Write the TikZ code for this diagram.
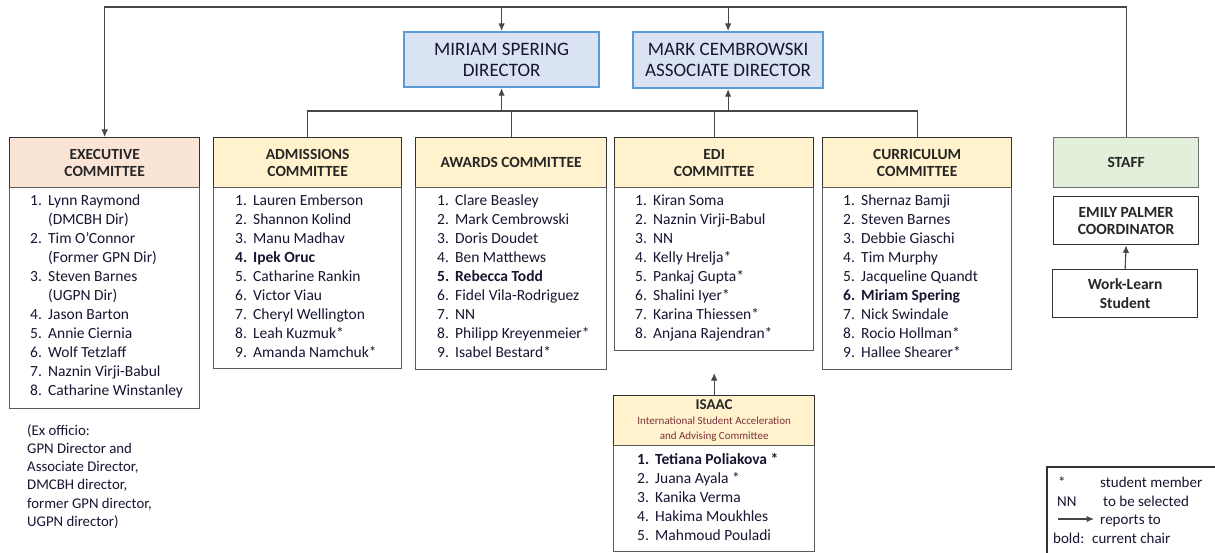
\documentclass[tikz,border=0pt]{standalone}
\usepackage{fontspec}
\setmainfont{Carlito}
\usetikzlibrary{arrows.meta}
\definecolor{boxline}{RGB}{50,50,50}
\definecolor{linegray}{RGB}{70,70,70}
\definecolor{listtxt}{RGB}{22,22,50}
\definecolor{execfill}{RGB}{250,228,214}
\definecolor{comfill}{RGB}{255,242,204}
\definecolor{stafffill}{RGB}{226,239,218}
\definecolor{dirfill}{RGB}{218,227,243}
\definecolor{dirline}{RGB}{91,155,213}
\definecolor{isaacred}{RGB}{125,50,60}
\tikzset{
  hdr/.style={draw=boxline,line width=1.3pt,anchor=north west,inner sep=0pt,align=center,
    font=\bfseries\fontsize{15.5}{17}\selectfont,text=black!85},
  bodybox/.style={draw=boxline!80,line width=1.2pt,anchor=north west,inner sep=0pt,fill=white},
  lst/.style={anchor=north west,inner sep=0pt,font=\fontsize{15.5}{19}\selectfont,text=listtxt},
  lgd/.style={anchor=base west,inner sep=0pt,font=\fontsize{15}{19}\selectfont,text=listtxt},
  dirbox/.style={draw=dirline,line width=2.2pt,fill=dirfill,anchor=north west,inner sep=0pt,
    align=center,font=\fontsize{19}{21}\selectfont,text=listtxt},
  link/.style={draw=linegray,line width=1.1pt},
  tip/.style={-{Latex[length=7.5pt,width=6.5pt]}}
}
\begin{document}
\begin{tikzpicture}[x=1pt,y=-1pt]
\useasboundingbox[fill=white] (0,0) rectangle (1215,553);
\coordinate (top) at (0,7);
\coordinate (bus) at (0,111);
\node[dirbox,minimum width=195,minimum height=55] (miriam) at (403,31) {MIRIAM SPERING\\DIRECTOR};
\node[dirbox,minimum width=190,minimum height=56] (mark) at (632,31) {MARK CEMBROWSKI\\ASSOCIATE DIRECTOR};
\node[hdr,fill=execfill,minimum width=190,minimum height=50] (exec) at (9,137) {EXECUTIVE\\COMMITTEE};
\node[bodybox,minimum width=190,minimum height=221] (execb) at (9,187) {};
\node[hdr,fill=comfill,minimum width=188,minimum height=50] (adm) at (213,137) {ADMISSIONS\\COMMITTEE};
\node[bodybox,minimum width=188,minimum height=181] (admb) at (213,187) {};
\node[hdr,fill=comfill,minimum width=191,minimum height=50] (awd) at (415,137) {AWARDS COMMITTEE};
\node[bodybox,minimum width=191,minimum height=182] (awdb) at (415,187) {};
\node[hdr,fill=comfill,minimum width=199,minimum height=50] (edi) at (614,137) {EDI\\COMMITTEE};
\node[bodybox,minimum width=199,minimum height=163] (edib) at (614,187) {};
\node[hdr,fill=comfill,minimum width=189,minimum height=50] (cur) at (822,137) {CURRICULUM\\COMMITTEE};
\node[bodybox,minimum width=189,minimum height=182] (curb) at (822,187) {};
\node[hdr,fill=stafffill,draw=boxline!70,minimum width=145,minimum height=50] (staff) at (1053,137) {STAFF};
\node[hdr,fill=white,minimum width=145,minimum height=48] (emily) at (1053,196) {EMILY PALMER\\COORDINATOR};
\node[hdr,fill=white,minimum width=145,minimum height=48,font=\bfseries\fontsize{15.5}{19}\selectfont] (work) at (1052,269) {Work-Learn\\Student};
\node[hdr,fill=comfill,minimum width=201,minimum height=50,font=\fontsize{11}{15}\selectfont] (isaac) at (613,395)
  {{\fontsize{15}{15}\selectfont\bfseries ISAAC}\\{\color{isaacred}International Student Acceleration}\\{\color{isaacred}and Advising Committee}};
\node[bodybox,minimum width=201,minimum height=106] (isaacb) at (613,445) {};
\node[lst] (execl) at (30,192) {\begin{tabular}{@{}p{18pt}@{}l@{}}
1. & Lynn Raymond\\ & (DMCBH Dir)\\2. & Tim O'Connor\\ & (Former GPN Dir)\\3. & Steven Barnes\\ & (UGPN Dir)\\
4. & Jason Barton\\5. & Annie Ciernia\\6. & Wolf Tetzlaff\\7. & Naznin Virji-Babul\\8. & Catharine Winstanley\end{tabular}};
\node[lst] (adml) at (235,192) {\begin{tabular}{@{}p{18pt}@{}l@{}}
1. & Lauren Emberson\\2. & Shannon Kolind\\3. & Manu Madhav\\\textbf{4.} & \textbf{Ipek Oruc}\\5. & Catharine Rankin\\
6. & Victor Viau\\7. & Cheryl Wellington\\8. & Leah Kuzmuk*\\9. & Amanda Namchuk*\end{tabular}};
\node[lst] (awdl) at (437,192) {\begin{tabular}{@{}p{18pt}@{}l@{}}
1. & Clare Beasley\\2. & Mark Cembrowski\\3. & Doris Doudet\\4. & Ben Matthews\\\textbf{5.} & \textbf{Rebecca Todd}\\
6. & Fidel Vila-Rodriguez\\7. & NN\\8. & Philipp Kreyenmeier*\\9. & Isabel Bestard*\end{tabular}};
\node[lst] (edil) at (635,192) {\begin{tabular}{@{}p{18pt}@{}l@{}}
1. & Kiran Soma\\2. & Naznin Virji-Babul\\3. & NN\\4. & Kelly Hrelja*\\5. & Pankaj Gupta*\\
6. & Shalini Iyer*\\7. & Karina Thiessen*\\8. & Anjana Rajendran*\end{tabular}};
\node[lst] (curl) at (843,192) {\begin{tabular}{@{}p{18pt}@{}l@{}}
1. & Shernaz Bamji\\2. & Steven Barnes\\3. & Debbie Giaschi\\4. & Tim Murphy\\5. & Jacqueline Quandt\\
\textbf{6.} & \textbf{Miriam Spering}\\7. & Nick Swindale\\8. & Rocio Hollman*\\9. & Hallee Shearer*\end{tabular}};
\node[lst] (isaacl) at (637,451) {\begin{tabular}{@{}p{18pt}@{}l@{}}
\textbf{1.} & \textbf{Tetiana Poliakova *}\\2. & Juana Ayala *\\3. & Kanika Verma\\4. & Hakima Moukhles\\5. & Mahmoud Pouladi\end{tabular}};
\node[lst,align=left,font=\fontsize{14.8}{18.3}\selectfont] (exoff) at (27,424)
  {(Ex officio:\\GPN Director and\\Associate Director,\\DMCBH director,\\former GPN director,\\UGPN director)};
\draw[draw=boxline,line width=1.3pt] (1047,467) rectangle (1225,565);
\node[lgd] (lstar) at (1058,487) {*};
\node[lgd] (lstud) at (1100,487) {student member};
\node[lgd] (lnn) at (1057,506) {NN};
\node[lgd] (lsel) at (1103,506) {to be selected};
\node[lgd] (lrep) at (1100,524) {reports to};
\node[lgd] (lbold) at (1053,543) {bold:};
\node[lgd] (lchair) at (1092,543) {current chair};
\coordinate (la) at (1058,519);
\coordinate (lb) at (1094,519);
\draw[link,tip] (la) -- (lb);
\draw[link,tip] (staff.north) |- (exec.north |- top) -- (exec.north);
\draw[link,line width=1.8pt] (miriam.north |- top) -- (mark.north |- top);
\draw[link,tip] (miriam.north |- top) -- (miriam.north);
\draw[link,tip] (mark.north |- top) -- (mark.north);
\draw[link] (adm.north) |- (cur.north |- bus) -- (cur.north);
\draw[link,line width=1.8pt] (adm.north |- bus) -- (mark.south |- bus);
\draw[link] (awd.north) -- (awd.north |- bus);
\draw[link] (edi.north) -- (edi.north |- bus);
\draw[link,tip] (miriam.south |- bus) -- (miriam.south);
\draw[link,tip] (mark.south |- bus) -- (mark.south);
\draw[link,tip] (isaac.north) -- ++(0,-22);
\draw[link,tip] (work.north) -- (emily.south);
\end{tikzpicture}
\end{document}
